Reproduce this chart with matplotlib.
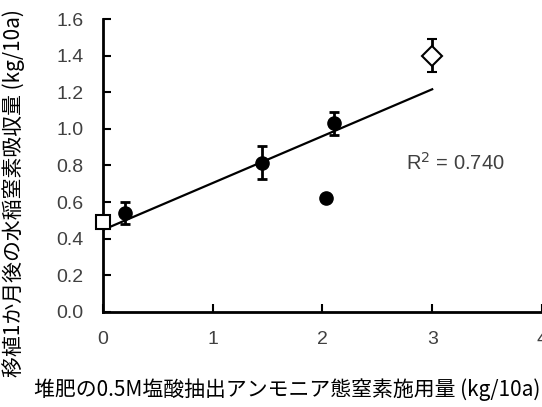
import matplotlib
matplotlib.use('Agg')
import matplotlib.pyplot as plt
import numpy as np

# compost NH4-N applied vs rice N uptake one month after transplanting
circle_x = [0.2, 1.45, 2.03, 2.11]
circle_y = [0.54, 0.815, 0.62, 1.03]
circle_err = [0.06, 0.09, 0.015, 0.065]

square_x = [0.0]
square_y = [0.49]
square_err = [0.0]

diamond_x = [3.0]
diamond_y = [1.40]
diamond_err = [0.09]

# regression line end points
fit_x = [0.0, 3.0]
fit_y = [0.447, 1.217]
r2_text = 'R$^2$ = 0.740'

xticks = [0, 1, 2, 3, 4]
yticks = [0.0, 0.2, 0.4, 0.6, 0.8, 1.0, 1.2, 1.4, 1.6]

xlabel = '堆肥の0.5M塩酸抽出アンモニア態窒素施用量 (kg/10a)'
ylabel = '移植1か月後の水稲窒素吸収量 (kg/10a)'

cjk = ['Noto Sans CJK JP', 'DejaVu Sans']
grey = '#404040'

fig = plt.figure(figsize=(5.42, 4.07), dpi=100)
ax = fig.add_axes([0.1895, 0.2342, 0.8105, 0.7184])

ax.plot(fit_x, fit_y, color='black', lw=1.6, zorder=2)

ebkw = dict(ecolor='black', elinewidth=2, capsize=3.5, capthick=2, zorder=3)
ax.errorbar(circle_x, circle_y, yerr=circle_err, fmt='o', ms=9.5,
            mfc='black', mec='black', **ebkw)
ax.errorbar(square_x, square_y, yerr=square_err, fmt='s', ms=10,
            mfc='white', mec='black', mew=1.5, clip_on=False, **ebkw)
ax.errorbar(diamond_x, diamond_y, yerr=diamond_err, fmt='D', ms=10,
            mfc='white', mec='black', mew=1.5, **ebkw)

ax.text(3.21, 0.815, r2_text, fontsize=14.5, color=grey,
        family='Liberation Sans', ha='center', va='center')

ax.set_xlim(0, 4)
ax.set_ylim(0, 1.6)
ax.set_xticks(xticks)
ax.set_yticks(yticks)
ax.set_yticklabels(['%.1f' % v for v in yticks])
for s in ['top', 'right']:
    ax.spines[s].set_visible(False)
for s in ['left', 'bottom']:
    ax.spines[s].set_linewidth(2)
ax.tick_params(direction='in', length=6, width=1.5, labelsize=14,
               labelcolor=grey, pad=14)
for lab in ax.get_xticklabels() + ax.get_yticklabels():
    lab.set_family('Liberation Sans')

fig.text(0.53, 0.042, xlabel, family=cjk, fontsize=15, color='black',
         ha='center', va='center')
fig.text(0.026, 0.526, ylabel, family=cjk, fontsize=15, color='black',
         ha='center', va='center', rotation=90)

fig.savefig('out.png', dpi=100)
